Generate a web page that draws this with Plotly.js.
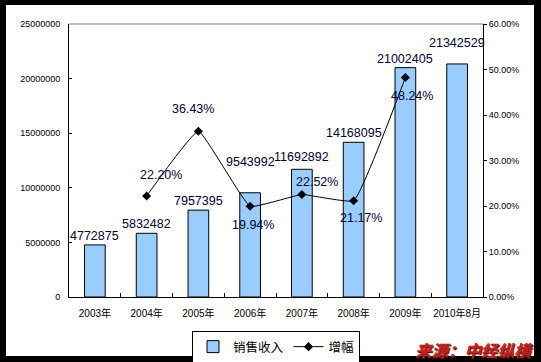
<!DOCTYPE html>
<html><head><meta charset="utf-8">
<script src="https://cdn.plot.ly/plotly-3.0.1.min.js"></script>
<style>html,body{margin:0;padding:0;background:#000;}#chart{width:541px;height:362px;}</style>
</head><body><div id="chart"></div>
<script>
// ---- data ----
const categories = ['2003年','2004年','2005年','2006年','2007年','2008年','2009年','2010年8月'];
const sales = [4772875,5832482,7957395,9543992,11692892,14168095,21002405,21342529];
const growth = [null,0.2220,0.3643,0.1994,0.2252,0.2117,0.4824,null];
const growthLabels = [null,'22.20%','36.43%','19.94%','22.52%','21.17%','48.24%',null];
const salesName = '销售收入';
const growthName = '增幅';
const sourceText = '来源：中经纵横';

// ---- styles (label offsets in px) ----
const salesLabelExtra = [0,0,0,22,3,0,0,12];
const growthLabelDx = [0,14,-5,3,15,7,7,0];
const growthLabelDy = [0,21,22,-19,13,-17,-18,0];

const FONT = '"Liberation Sans", Arial, "Noto Sans CJK SC", sans-serif';
const LABEL_COLOR = '#000033';

const M = {l:69, r:58, t:24, b:65};
const W = 541, H = 362;
const pw = W - M.l - M.r, ph = H - M.t - M.b;
const px2x = p => (p - M.l) / pw;
const py2y = p => (H - M.b - p) / ph;

const traces = [
  {type:'bar', x:categories, y:sales, name:salesName, width:0.4,
   marker:{color:'#99CCFF', line:{color:'#000', width:1}}, hoverinfo:'none'},
  {type:'scatter', mode:'lines+markers', x:categories, y:growth, name:growthName, yaxis:'y2',
   line:{color:'#000', width:1, shape:'spline', smoothing:0.3},
   marker:{symbol:'diamond', size:7, color:'#000'}, hoverinfo:'none'}
];

const annotations = [];
categories.forEach((c,i)=>{
  annotations.push({x:c, y:sales[i], xref:'x', yref:'y', text:String(sales[i]), showarrow:false,
    yanchor:'bottom', xanchor:'center', yshift:salesLabelExtra[i],
    font:{family:FONT, size:12.5, color:LABEL_COLOR}});
  if (growth[i] !== null) {
    annotations.push({x:c, y:growth[i], xref:'x', yref:'y2', text:growthLabels[i], showarrow:false,
      yanchor:'middle', xanchor:'center', xshift:growthLabelDx[i], yshift:growthLabelDy[i],
      font:{family:FONT, size:12.5, color:LABEL_COLOR}});
  }
});
annotations.push({xref:'paper', yref:'paper', x:px2x(535), y:py2y(350), xanchor:'right', yanchor:'middle',
  text:'<b><i>'+sourceText+'</i></b>', showarrow:false,
  font:{family:'"Noto Sans CJK SC", sans-serif', size:16.5, color:'#CC1F1F', shadow:'1px 1px 1px #300'}});

const layout = {
  width:W, height:H, margin:M,
  paper_bgcolor:'#000', plot_bgcolor:'#fff',
  font:{family:FONT, color:'#000'},
  showlegend:true,
  legend:{orientation:'h', xref:'container', yref:'container', x:276/W, xanchor:'center', y:(H-331)/H, yanchor:'top',
    bgcolor:'#fff', bordercolor:'#000', borderwidth:1, font:{size:12.5, family:FONT},
    traceorder:'normal', tracegroupgap:0, itemwidth:30},
  xaxis:{type:'category', range:[-0.5,7.5], showline:true, linecolor:'#000', linewidth:1,
    ticks:'inside', tickson:'boundaries', ticklen:4, tickcolor:'#000', showgrid:false, zeroline:false,
    tickangle:0, automargin:false, tickfont:{size:10, family:FONT}, ticklabelstandoff:7},
  yaxis:{range:[0,25000000], dtick:5000000, tickformat:'d', showline:true, linecolor:'#000', linewidth:1,
    ticks:'inside', ticklen:3, tickcolor:'#000', showgrid:false, zeroline:false, automargin:false,
    tickfont:{size:9, family:FONT}, ticklabelstandoff:6},
  yaxis2:{overlaying:'y', side:'right', range:[0,0.6], dtick:0.1, tickformat:'.2%', showline:true,
    linecolor:'#000', linewidth:1, ticks:'outside', ticklen:3, tickcolor:'#000', showgrid:false, zeroline:false,
    automargin:false, tickfont:{size:9, family:FONT}},
  shapes:[
    {type:'rect', xref:'paper', yref:'paper', x0:px2x(6), x1:px2x(534), y0:py2y(356), y1:py2y(5),
     fillcolor:'#fff', line:{width:0}, layer:'below'},
    {type:'line', xref:'paper', yref:'paper', x0:0, x1:1, y0:1, y1:1, line:{color:'#808080', width:1}}
  ],
  annotations:annotations
};

Plotly.newPlot('chart', traces, layout, {displayModeBar:false, staticPlot:true});
</script>
</body></html>
